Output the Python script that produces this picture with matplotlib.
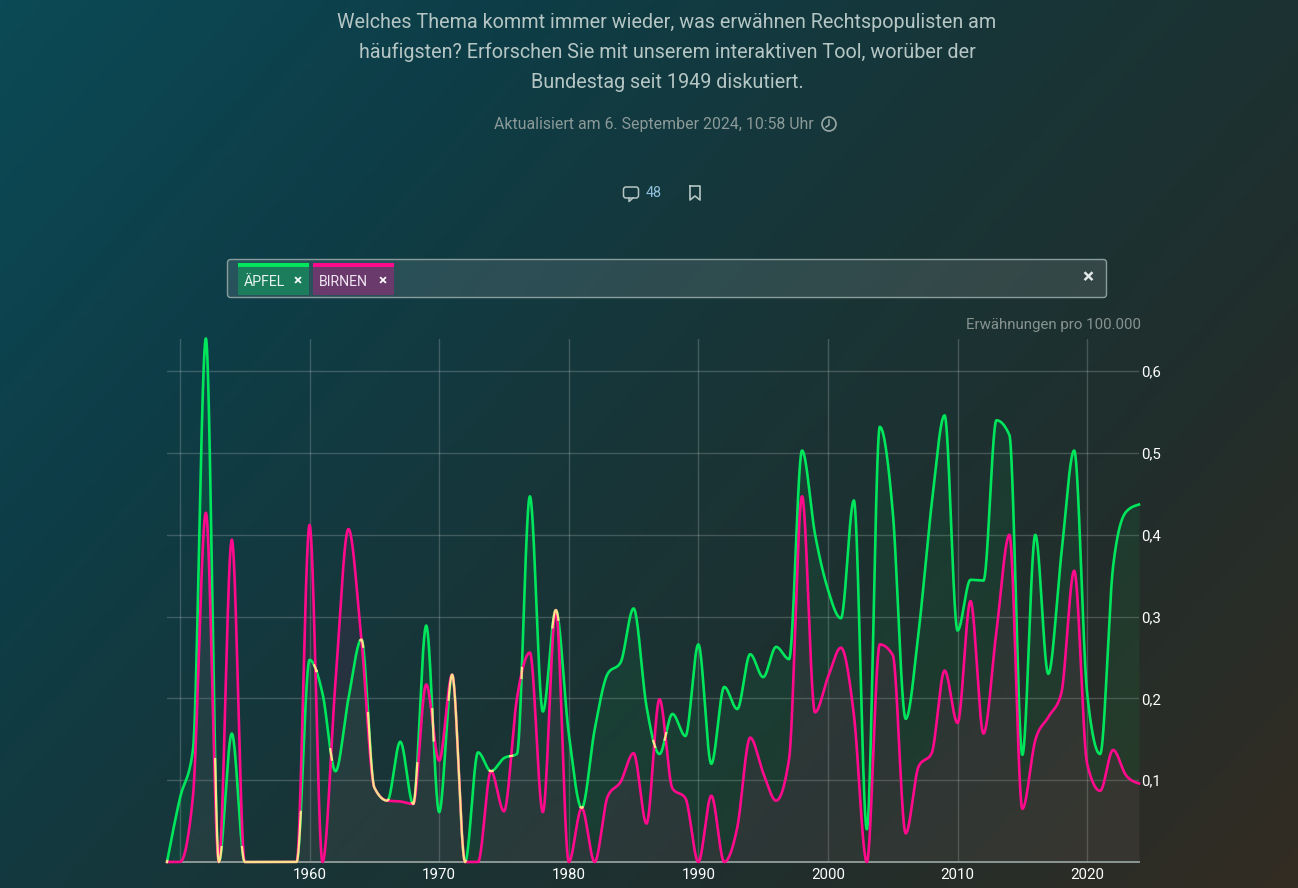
import numpy as np
import matplotlib
matplotlib.use("Agg")
import matplotlib.pyplot as plt
from matplotlib.colors import LinearSegmentedColormap
from matplotlib.patches import Circle, FancyBboxPatch, Rectangle

# values per year
years = list(range(1949, 2025))
aepfel = [0, .078, .137, .64, 0, .157, 0, 0, 0, 0, 0, .247, .206, .111, .20, .272,
          .091, .075, .147, .071, .289, .061, .229, 0, .134, .111, .127, .132, .447, .184,
          .308, .157, .066, .162, .23, .244, .31, .19, .132, .181, .154, .266, .12, .214,
          .187, .254, .226, .263, .248, .503, .401, .333, .298, .442, .04, .532, .428, .175,
          .282, .437, .546, .283, .345, .344, .54, .522, .131, .40, .23, .375, .503, .206,
          .132, .361, .428, .437]
birnen = [0, 0, .08, .427, 0, .394, 0, 0, 0, 0, 0, .412, 0, .22, .407, .272,
          .091, .075, .074, .071, .217, .124, .229, 0, 0, .111, .062, .20, .256, .061,
          .308, 0, .066, 0, .08, .098, .133, .047, .199, .09, .078, 0, .081, 0,
          .042, .152, .109, .075, .126, .447, .183, .226, .262, .18, 0, .266, .253, .035,
          .117, .133, .234, .17, .319, .157, .282, .40, .065, .149, .177, .206, .356, .12,
          .087, .137, .106, .096]
x_ticks = [1950, 1960, 1970, 1980, 1990, 2000, 2010, 2020]
x_labels = ["", "1960", "1970", "1980", "1990", "2000", "2010", "2020"]
y_ticks = [.1, .2, .3, .4, .5, .6]
y_labels = ["0,1", "0,2", "0,3", "0,4", "0,5", "0,6"]
title_lines = ["Welches Thema kommt immer wieder, was erwähnen Rechtspopulisten am",
               "häufigsten? Erforschen Sie mit unserem interaktiven Tool, worüber der",
               "Bundestag seit 1949 diskutiert."]

W, H = 1298, 888
GREEN = "#00e65c"
PINK = "#ff0a8c"
YELLOW = "#ffe08a"

plt.rcParams["font.family"] = ["Roboto", "DejaVu Sans"]


def monotone(x, y, xs):
    # monotone cubic through the yearly values, the curve type of the original
    x = np.asarray(x, float)
    y = np.asarray(y, float)
    h = np.diff(x)
    s = np.diff(y) / h
    m = np.zeros(len(x))
    p = (s[:-1] * h[1:] + s[1:] * h[:-1]) / (h[:-1] + h[1:])
    m[1:-1] = (np.sign(s[:-1]) + np.sign(s[1:])) * np.minimum.reduce(
        [np.abs(s[:-1]), np.abs(s[1:]), 0.5 * np.abs(p)])
    m[0] = (3 * s[0] - m[1]) / 2
    m[-1] = (3 * s[-1] - m[-2]) / 2
    i = np.clip(np.searchsorted(x, xs, side="right") - 1, 0, len(x) - 2)
    t = (xs - x[i]) / h[i]
    return ((2 * t**3 - 3 * t**2 + 1) * y[i] + (t**3 - 2 * t**2 + t) * h[i] * m[i]
            + (-2 * t**3 + 3 * t**2) * y[i + 1] + (t**3 - t**2) * h[i] * m[i + 1])


def overlap_mask(xs, a, b, limit=1.1, reach=120):
    # True where curve a runs within `limit` pixels of curve b
    ax_px = xs * (1139 - 167) / 75
    a_px = a * 818
    b_px = b * 818
    best = np.full(len(xs), np.inf)
    for k in range(-reach, reach + 1):
        d = np.hypot(ax_px - np.roll(ax_px, k), a_px - np.roll(b_px, k))
        best = np.minimum(best, d)
    return best < limit


fig = plt.figure(figsize=(W / 100, H / 100), dpi=100)

# page background and everything around the chart, in pixel coordinates
bg = fig.add_axes([0, 0, 1, 1])
bg.set_xlim(0, W)
bg.set_ylim(H, 0)
bg.axis("off")
gx, gy = np.meshgrid(np.linspace(0, 1, 400), np.linspace(0, 1, 300))
grad = np.clip(gx * 0.62 + gy * 0.38, 0, 1)
cmap = LinearSegmentedColormap.from_list(
    "page", [(0, "#0b4a56"), (.25, "#0e3d47"), (.5, "#183537"), (.75, "#212e2c"), (1, "#332c23")])
bg.imshow(grad, cmap=cmap, extent=(0, W, H, 0), aspect="auto", vmin=0, vmax=1, zorder=0)

for line, y in zip(title_lines, [22, 52, 82]):
    bg.text(667, y, line, color="#b5c6c4", fontsize=14.2, ha="center", va="center")
bg.text(654, 124, "Aktualisiert am 6. September 2024, 10:58 Uhr", color="#8b9a98",
        fontsize=11.4, ha="center", va="center")
bg.add_patch(Circle((829, 124), 7, fill=False, ec="#9aa8a6", lw=1.2))
bg.plot([829, 829, 826], [120, 125, 127], color="#9aa8a6", lw=1.1)

# comments and bookmark icons
bg.add_patch(FancyBboxPatch((623.5, 187), 15, 11, boxstyle="round,pad=0,rounding_size=2.5",
                            fc="none", ec="#b5c6c4", lw=1.1))
bg.plot([629, 629, 633], [198, 201.5, 198], color="#b5c6c4", lw=1.1)
bg.text(654, 193, "48", color="#8fc0dc", fontsize=10.4, ha="center", va="center")
bg.plot([690, 700, 700, 695, 690, 690], [186, 186, 200, 196, 200, 186], color="#b5c6c4", lw=1.2)

# search box with the two tags
bg.add_patch(FancyBboxPatch((227.5, 259.5), 879, 38, boxstyle="round,pad=0,rounding_size=3",
                            fc=(1, 1, 1, .11), ec="#8a9d9d", lw=1))
bg.add_patch(Rectangle((238, 266), 71, 29, fc="#1c7d5c", ec="none"))
bg.add_patch(Rectangle((238, 263), 71, 3.5, fc=GREEN, ec="none"))
bg.add_patch(Rectangle((313, 266), 81, 29, fc="#6a3a6c", ec="none"))
bg.add_patch(Rectangle((313, 263), 81, 3.5, fc=PINK, ec="none"))
bg.text(244, 281.5, "ÄPFEL", color="#e8f4f0", fontsize=10.2, va="center")
bg.text(319, 281.5, "BIRNEN", color="#f0e6f2", fontsize=10.2, va="center")
bg.text(298, 280, "×", color="white", fontsize=11, fontweight="bold", ha="center", va="center")
bg.text(383, 280, "×", color="white", fontsize=11, fontweight="bold", ha="center", va="center")
bg.text(1088, 278, "×", color="#e4eaea", fontsize=15, fontweight="bold", ha="center", va="center")

bg.text(1141, 324.5, "Erwähnungen pro 100.000", color="#87938f", fontsize=10.8,
        ha="right", va="center")

# chart
ax = fig.add_axes([167 / W, (H - 862) / H, (1139 - 167) / W, 523.5 / H])
ax.patch.set_alpha(0)
ax.set_xlim(1949, 2024)
ax.set_ylim(0, .64)
for side in ["top", "left", "right"]:
    ax.spines[side].set_visible(False)
ax.spines["bottom"].set_color("#8b9795")
ax.spines["bottom"].set_linewidth(1.4)

ax.set_xticks(x_ticks, x_labels)
ax.yaxis.tick_right()
ax.set_yticks(y_ticks, y_labels)
ax.tick_params(axis="both", length=0, labelcolor="white", labelsize=10.8)
ax.tick_params(axis="x", pad=4.5)
ax.tick_params(axis="y", pad=1.5)
ax.grid(True, color="white", alpha=.19, lw=1)
ax.set_axisbelow(True)

xs = np.linspace(1949, 2024, 24001)
green_y = monotone(years, aepfel, xs)
pink_y = monotone(years, birnen, xs)

ax.fill_between(xs, 0, green_y, color=GREEN, alpha=.07, lw=0)
ax.fill_between(xs, 0, pink_y, color=PINK, alpha=.07, lw=0)
ax.plot(xs, green_y, color=GREEN, lw=1.9, clip_on=False, zorder=3)
ax.plot(xs, pink_y, color=PINK, lw=1.9, clip_on=False, zorder=4)
# where both lines lie on top of each other they show up yellow
both = np.where(overlap_mask(xs, green_y, pink_y), green_y, np.nan)
ax.plot(xs, both, color=YELLOW, lw=1.6, clip_on=False, zorder=5)

fig.savefig("out.png", dpi=100)
